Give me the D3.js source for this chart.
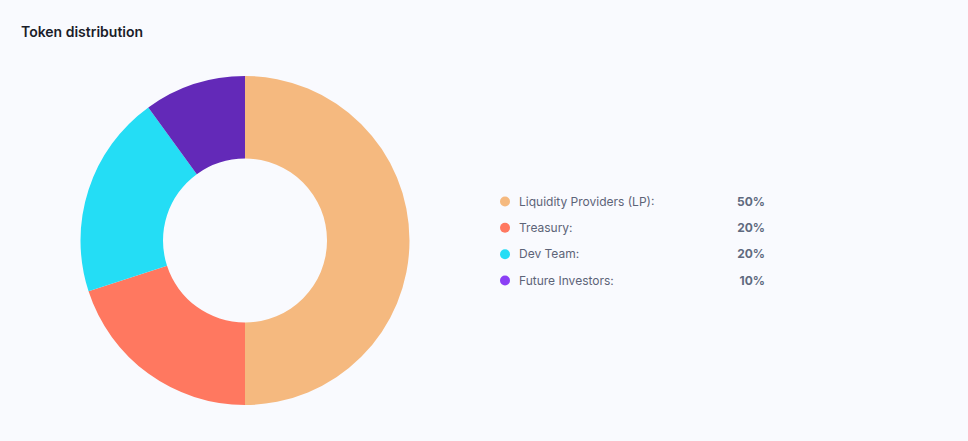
<!DOCTYPE html>
<html>
<head>
<meta charset="utf-8">
<script src="https://cdn.jsdelivr.net/npm/d3@7.9.0/dist/d3.min.js"></script>
<style>
  html, body { margin: 0; padding: 0; background: #f9fafe; }
  body { width: 968px; height: 441px; overflow: hidden; font-family: Inter, "Noto Sans", sans-serif; }
  svg { display: block; }
</style>
</head>
<body>
<svg id="chart" width="968" height="441"></svg>
<script>
// data
const labels = ['Liquidity Providers (LP):', 'Treasury:', 'Dev Team:', 'Future Investors:'];
const shares = [50, 20, 20, 10];

const sliceColors = ['#f5b97f', '#ff7860', '#24ddf5', '#6329b8'];
const dotColors = ['#f5b97f', '#ff7860', '#24ddf5', '#8b3ff5'];

const svg = d3.select('#chart');

svg.append('text')
  .attr('x', 21)
  .attr('y', 37)
  .attr('font-size', 14)
  .attr('font-weight', 600)
  .attr('fill', '#1b1d29')
  .text('Token distribution');

const data = labels.map((label, i) => ({ label, value: shares[i] }));

let sliceGenerator = d3.pie().sort(null).value((d) => d.value);
let arcData = sliceGenerator(data);
let arcGenerator = d3.arc().innerRadius(82).outerRadius(164.5);

const donut = svg.append('g').attr('transform', 'translate(245,240.5)');
arcData.forEach((d, idx) => {
  donut.append('path')
    .attr('d', arcGenerator(d))
    .attr('fill', sliceColors[idx]);
});

// legend
const rowY = d3.scalePoint().domain(labels).range([201.5, 280.5]);
const legend = svg.append('g');
data.forEach((d) => {
  const y = rowY(d.label);
  const i = labels.indexOf(d.label);
  legend.append('circle')
    .attr('cx', 505)
    .attr('cy', y)
    .attr('r', 5)
    .attr('fill', dotColors[i]);
  legend.append('text')
    .attr('x', 519)
    .attr('y', y)
    .attr('dy', '0.35em')
    .attr('font-size', 12)
    .attr('fill', '#5d6478')
    .text(d.label);
  legend.append('text')
    .attr('x', 765)
    .attr('y', y)
    .attr('dy', '0.35em')
    .attr('text-anchor', 'end')
    .attr('font-size', 12)
    .attr('font-weight', 700)
    .attr('fill', '#5f6a7f')
    .text(`${d.value}%`);
});
</script>
</body>
</html>
